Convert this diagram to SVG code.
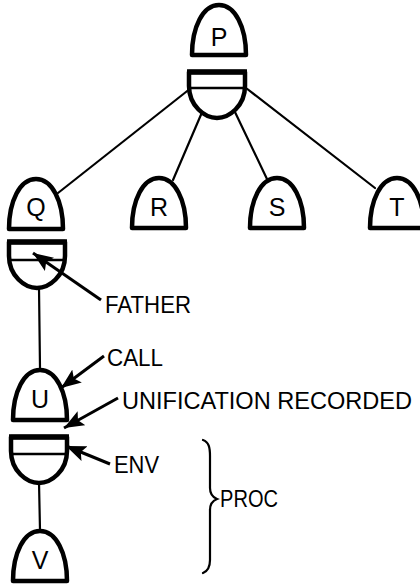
<svg xmlns="http://www.w3.org/2000/svg" xmlns:xlink="http://www.w3.org/1999/xlink" width="420" height="586" viewBox="0 0 420 586">
  <style>
    .shape { fill: #fff; stroke: #000; stroke-width: 4.5; stroke-linejoin: round; }
    .rim { fill: none; stroke: #000; stroke-width: 5.5; stroke-linecap: butt; }
    .band { fill: none; stroke: #000; stroke-width: 2.5; }
    .edge { fill: none; stroke: #000; stroke-width: 2.2; stroke-linecap: round; }
    .pointer { fill: none; stroke: #000; stroke-width: 3; marker-end: url(#head); }
    .letter { font-family: "Liberation Sans", Arial, sans-serif; font-size: 25px; text-anchor: middle; fill: #000; }
    .label { font-family: "Liberation Sans", Arial, sans-serif; font-size: 24px; fill: #000; }
  </style>
  <defs>
    <!-- goal node: rounded dome with a flat base -->
    <path id="dome" d="M 0 50 C 0 22, 11 0, 27 0 C 43 0, 54 22, 54 50 Z"/>
    <!-- environment frame: straight-sided top with a bowl underneath -->
    <path id="cup" d="M 0 0 L 56 0 L 56 14 C 56 34, 40 46, 28 46 C 16 46, 0 34, 0 14 Z"/>
    <marker id="head" markerUnits="userSpaceOnUse" markerWidth="22" markerHeight="16" refX="20" refY="8" orient="auto">
      <path d="M 0 0 L 20 8 L 0 16 L 4 8 Z" fill="#000"/>
    </marker>
  </defs>

  <!-- connectors -->
  <g id="connectors">
    <line class="edge" x1="191" y1="88" x2="58" y2="193"/>
    <line class="edge" x1="203" y1="110" x2="173" y2="180"/>
    <line class="edge" x1="234" y1="110" x2="267" y2="179"/>
    <line class="edge" x1="246" y1="88" x2="375" y2="188"/>
    <line class="edge" x1="39" y1="288" x2="40" y2="368"/>
    <line class="edge" x1="39" y1="482" x2="40" y2="530"/>
  </g>

  <!-- P with its frame -->
  <g id="node-P">
    <use xlink:href="#dome" class="shape" x="192" y="5"/>
    <text class="letter" x="219" y="46">P</text>
  </g>
  <g id="frame-P">
    <use xlink:href="#cup" class="shape" x="189" y="72"/>
    <line class="rim" x1="187" y1="72" x2="247" y2="72"/>
    <line class="band" x1="190" y1="88" x2="244" y2="88"/>
  </g>

  <!-- children of P -->
  <g id="node-Q">
    <use xlink:href="#dome" class="shape" x="9" y="179"/>
    <text class="letter" x="36" y="216">Q</text>
  </g>
  <g id="node-R">
    <use xlink:href="#dome" class="shape" x="132" y="178"/>
    <text class="letter" x="159" y="216">R</text>
  </g>
  <g id="node-S">
    <use xlink:href="#dome" class="shape" x="250" y="178"/>
    <text class="letter" x="277" y="216">S</text>
  </g>
  <g id="node-T">
    <use xlink:href="#dome" class="shape" x="370" y="178"/>
    <text class="letter" x="397" y="216">T</text>
  </g>

  <!-- frame of Q -->
  <g id="frame-Q">
    <use xlink:href="#cup" class="shape" x="9" y="242"/>
    <line class="rim" x1="7" y1="242" x2="67" y2="242"/>
    <line class="band" x1="10" y1="260" x2="64" y2="260"/>
  </g>

  <!-- U and its frame -->
  <g id="node-U">
    <use xlink:href="#dome" class="shape" x="13" y="370"/>
    <text class="letter" x="40" y="408">U</text>
  </g>
  <g id="frame-U">
    <use xlink:href="#cup" class="shape" x="11" y="437"/>
    <line class="rim" x1="9" y1="437" x2="69" y2="437"/>
    <line class="band" x1="12" y1="454" x2="66" y2="454"/>
  </g>

  <!-- V -->
  <g id="node-V">
    <use xlink:href="#dome" class="shape" x="13" y="531"/>
    <text class="letter" x="40" y="569">V</text>
  </g>

  <!-- labels with pointers -->
  <g id="label-father">
    <line class="pointer" x1="101" y1="300" x2="33" y2="253"/>
    <text class="label" x="105" y="313" textLength="86" lengthAdjust="spacingAndGlyphs">FATHER</text>
  </g>
  <g id="label-call">
    <line class="pointer" x1="104" y1="356" x2="61" y2="388"/>
    <text class="label" x="107" y="366" textLength="56" lengthAdjust="spacingAndGlyphs">CALL</text>
  </g>
  <g id="label-unification">
    <line class="pointer" x1="118" y1="398" x2="64" y2="428"/>
    <text class="label" x="122" y="409" textLength="290" lengthAdjust="spacingAndGlyphs">UNIFICATION RECORDED</text>
  </g>
  <g id="label-env">
    <line class="pointer" x1="110" y1="464" x2="66" y2="446"/>
    <text class="label" x="114" y="473" textLength="45" lengthAdjust="spacingAndGlyphs">ENV</text>
  </g>
  <g id="label-proc">
    <path class="edge" d="M 203 440 C 209 442, 210 448, 210 456 L 210 488 C 210 494, 212 497, 217 499 C 212 501, 210 504, 210 510 L 210 560 C 210 567, 208 571, 203 573"/>
    <text class="label" x="220" y="507" textLength="58" lengthAdjust="spacingAndGlyphs">PROC</text>
  </g>
</svg>
